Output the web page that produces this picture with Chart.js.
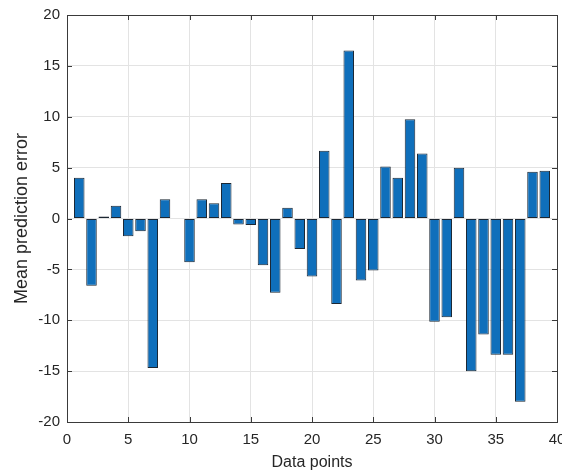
<!DOCTYPE html>
<html>
<head>
<meta charset="utf-8">
<script src="https://cdn.jsdelivr.net/npm/chart.js@4.4.0/dist/chart.umd.min.js"></script>
<style>
  html, body { margin: 0; padding: 0; background: #fff; }
  #wrap { width: 562px; height: 473px; }
</style>
</head>
<body>
<div id="wrap"><canvas id="chartError"></canvas></div>
<script>
const points = [1, 2, 3, 4, 5, 6, 7, 8, 9, 10, 11, 12, 13, 14, 15, 16, 17, 18, 19, 20,
  21, 22, 23, 24, 25, 26, 27, 28, 29, 30, 31, 32, 33, 34, 35, 36, 37, 38, 39];
const errors = [4.0, -6.6, 0.2, 1.25, -1.75, -1.25, -14.7, 1.9, 0, -4.3,
  1.9, 1.5, 3.5, -0.6, -0.65, -4.6, -7.3, 1.05, -3.0, -5.7,
  6.65, -8.4, 16.5, -6.1, -5.1, 5.1, 4.0, 9.75, 6.4, -10.15,
  -9.7, 5.0, -15.0, -11.4, -13.4, -13.4, -18.0, 4.6, 4.7];
const xTicks = [0, 5, 10, 15, 20, 25, 30, 35, 40];
const yTicks = [-20, -15, -10, -5, 0, 5, 10, 15, 20];

const axisColor = '#3a3a3a';
const textColor = '#262626';
const fontFamily = 'Liberation Sans, Arial, sans-serif';

// box around the axes with small inward tick marks on every side
const boxPlugin = {
    id: 'box',
    afterDraw(chart) {
        const ctx = chart.ctx;
        const a = chart.chartArea;
        const xs = chart.scales.x;
        const ys = chart.scales.y;
        ctx.save();
        ctx.strokeStyle = axisColor;
        ctx.lineWidth = 1;
        ctx.strokeRect(Math.round(a.left) + 0.5, Math.round(a.top) + 0.5,
            Math.round(a.right - a.left), Math.round(a.bottom - a.top));
        ctx.beginPath();
        xTicks.forEach(v => {
            const px = Math.round(xs.getPixelForValue(v)) + 0.5;
            ctx.moveTo(px, a.bottom); ctx.lineTo(px, a.bottom - 5);
            ctx.moveTo(px, a.top); ctx.lineTo(px, a.top + 5);
        });
        yTicks.forEach(v => {
            const py = Math.round(ys.getPixelForValue(v)) + 0.5;
            ctx.moveTo(a.left, py); ctx.lineTo(a.left + 5, py);
            ctx.moveTo(a.right, py); ctx.lineTo(a.right - 5, py);
        });
        ctx.stroke();
        ctx.restore();
    }
};

new Chart(document.querySelector('#chartError').getContext('2d'), {
    type: 'bar',
    data: {
        datasets: [
            {
                label: 'Mean prediction error',
                data: points.map((p, i) => ({ x: p, y: errors[i] })),
                backgroundColor: '#0f6fbb',
                borderColor: '#1c2733',
                borderWidth: 1,
                borderSkipped: false,
                barPercentage: 0.86,
                categoryPercentage: 1
            }
        ]
    },
    options: {
        responsive: true,
        maintainAspectRatio: false,
        animation: false,
        layout: { padding: { top: 15, right: 5, left: 0, bottom: 0 } },
        plugins: {
            legend: { display: false },
            tooltip: { enabled: false }
        },
        scales: {
            x: {
                type: 'linear',
                min: 0,
                max: 40,
                offset: false,
                afterBuildTicks: s => { s.ticks = xTicks.map(v => ({ value: v })); },
                afterFit: s => { s.height = 51; s.paddingLeft = 0; s.paddingRight = 0; },
                grid: { color: '#e3e3e3', drawTicks: false, offset: false },
                border: { display: false },
                ticks: {
                    color: textColor,
                    padding: 9,
                    maxRotation: 0,
                    font: { family: fontFamily, size: 15 }
                },
                title: {
                    display: true,
                    text: 'Data points',
                    color: textColor,
                    padding: { top: 0, bottom: 1 },
                    font: { family: fontFamily, size: 16 }
                }
            },
            y: {
                min: -20,
                max: 20,
                afterBuildTicks: s => { s.ticks = yTicks.map(v => ({ value: v })); },
                afterFit: s => { s.width = 67; s.paddingTop = 0; s.paddingBottom = 0; },
                grid: { color: '#e3e3e3', drawTicks: false },
                border: { display: false },
                ticks: {
                    color: textColor,
                    padding: 7,
                    font: { family: fontFamily, size: 15 }
                },
                title: {
                    display: true,
                    text: 'Mean prediction error',
                    color: textColor,
                    padding: { top: 11, bottom: 0 },
                    font: { family: fontFamily, size: 18 }
                }
            }
        }
    },
    plugins: [boxPlugin]
});
</script>
</body>
</html>
